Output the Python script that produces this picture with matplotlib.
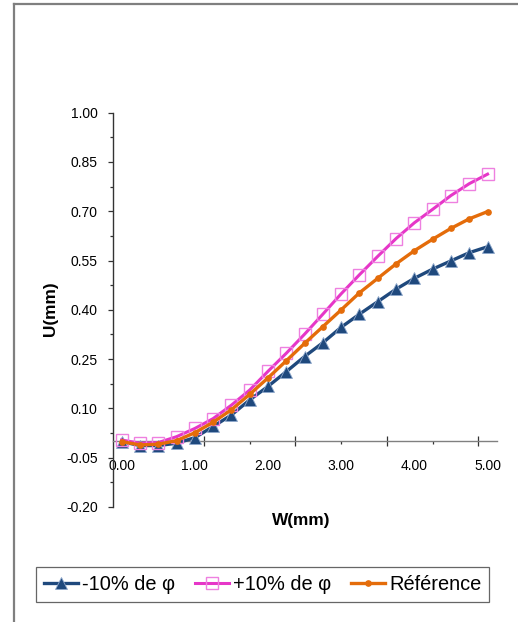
import matplotlib
matplotlib.use("Agg")
import matplotlib.pyplot as plt
from matplotlib.lines import Line2D

plt.rcParams['font.family'] = ['Liberation Sans', 'DejaVu Sans']

# Displacement W (mm) and response U (mm) for the three cases
w_mm = [0.00, 0.25, 0.50, 0.75, 1.00, 1.25, 1.50, 1.75, 2.00, 2.25, 2.50,
        2.75, 3.00, 3.25, 3.50, 3.75, 4.00, 4.25, 4.50, 4.75, 5.00]
u_minus10 = [-0.001, -0.013, -0.013, -0.006, 0.011, 0.045, 0.080, 0.126, 0.167,
             0.212, 0.258, 0.300, 0.347, 0.387, 0.425, 0.463, 0.496, 0.524,
             0.549, 0.574, 0.592]
u_plus10 = [0.004, -0.006, -0.004, 0.014, 0.039, 0.069, 0.110, 0.156, 0.213,
            0.268, 0.326, 0.387, 0.449, 0.507, 0.563, 0.617, 0.665, 0.706,
            0.748, 0.784, 0.813]
u_ref = [-0.001, -0.011, -0.009, 0.002, 0.026, 0.058, 0.096, 0.143, 0.193,
         0.245, 0.298, 0.349, 0.400, 0.452, 0.496, 0.540, 0.580, 0.615,
         0.648, 0.677, 0.699]

series_labels = ['-10% de φ', '+10% de φ', 'Référence']
y_ticks = [-0.20, -0.05, 0.10, 0.25, 0.40, 0.55, 0.70, 0.85, 1.00]
x_labels = [0.0, 1.0, 2.0, 3.0, 4.0, 5.0]

W, H = 518, 622
fig = plt.figure(figsize=(W / 100, H / 100), dpi=100)
fig.patch.set_facecolor('white')

# outer chart-area border (left and top edges)
fig.add_artist(Line2D([13.5 / W, 13.5 / W], [0, 1 - 3.5 / H], transform=fig.transFigure,
                      color='#7f7f7f', lw=1.6))
fig.add_artist(Line2D([13.5 / W, 1], [1 - 3.5 / H, 1 - 3.5 / H], transform=fig.transFigure,
                      color='#7f7f7f', lw=1.6))

left, right, top, bottom = 112.5, 496.7, 112.7, 507.0
ax = fig.add_axes([left / W, 1 - bottom / H, (right - left) / W, (bottom - top) / H])

blue = '#1F497D'
magenta = '#E636C8'
orange = '#E46C0A'

ax.plot(w_mm, u_minus10, color=blue, lw=2.4, marker='^', ms=8.5,
        mfc=blue, mec='#8FA8CC', mew=0.6, label=series_labels[0], zorder=3)
ax.plot(w_mm, u_plus10, color=magenta, lw=2.2, marker='s', ms=8.3,
        mfc='none', mec='#EE80E0', mew=1.0, label=series_labels[1], zorder=4)
ax.plot(w_mm, u_ref, color=orange, lw=2.4, marker='o', ms=3.8,
        mfc=orange, mec=orange, label=series_labels[2], zorder=5)

ax.set_xlim(-0.125, 5.125)
ax.set_ylim(-0.20, 1.00)

for s in ['top', 'right']:
    ax.spines[s].set_visible(False)
ax.spines['bottom'].set_position(('data', 0))
ax.spines['bottom'].set_color('#808080')
ax.spines['bottom'].set_linewidth(1.0)
ax.spines['left'].set_color('#333333')
ax.spines['left'].set_linewidth(1.0)

# y axis: labelled ticks plus mid ticks
ax.set_yticks(y_ticks)
ax.set_yticklabels([f'{v:.2f}' for v in y_ticks])
ax.set_yticks([v + 0.075 for v in y_ticks[:-1]], minor=True)
ax.tick_params(axis='y', which='major', direction='out', length=3.6, width=0.9,
               color='#333333', pad=7.0, labelsize=10)
ax.tick_params(axis='y', which='minor', direction='out', length=2.4, width=0.9,
               color='#333333')

# x axis: value labels without marks, category-boundary marks without labels
ax.set_xticks(x_labels)
ax.set_xticklabels([f'{v:.2f}' for v in x_labels])
ax.set_xticks([1.125, 2.375, 3.625, 4.875], minor=True)
ax.tick_params(axis='x', which='major', length=0, pad=13, labelsize=10)
ax.tick_params(axis='x', which='minor', direction='inout', length=7, width=0.9,
               color='#333333')

sec = ax.secondary_xaxis(0.2 / 1.2)
sec.spines['bottom'].set_visible(False)
sec.set_xticks([0.5, 1.75, 3.0, 4.25])
sec.set_xticklabels([])
sec.tick_params(axis='x', which='major', direction='out', length=2.5, width=0.9,
                color='#333333')
sec.tick_params(axis='x', which='minor', length=0)

fig.text(300.8 / W, 1 - 520 / H, 'W(mm)', ha='center', va='center',
         fontsize=12.4, fontweight='bold')
fig.text(50.7 / W, 1 - 309 / H, 'U(mm)', ha='center', va='center',
         rotation=90, fontsize=12.4, fontweight='bold')

leg = ax.legend(loc='center', bbox_to_anchor=(262.5 / W, 1 - 584 / H),
                bbox_transform=fig.transFigure, ncol=3, frameon=True,
                fancybox=False, edgecolor='#404040', fontsize=14.4,
                handlelength=1.7, handletextpad=0.2, columnspacing=1.0,
                borderpad=0.4, borderaxespad=0)
leg.get_frame().set_linewidth(0.9)

fig.savefig('out.png', dpi=100, facecolor='white')
